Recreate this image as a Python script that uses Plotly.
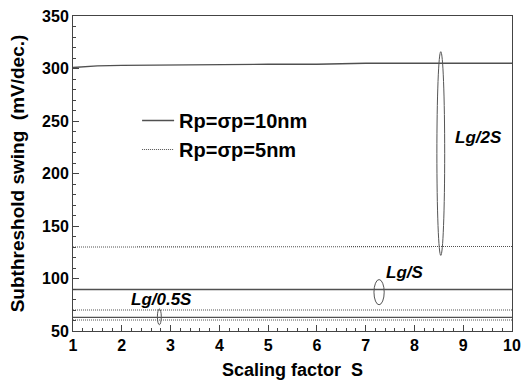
import plotly.graph_objects as go

s = [1, 1.5, 2, 3, 4, 5, 6, 7, 8, 9, 10]
ss_10nm_2S = [301, 302.5, 303, 303.5, 303.5, 304, 304, 305, 305, 305, 305]
ss_5nm_2S = [130, 130, 130, 130, 130, 130, 130, 130.5, 130.5, 130.5, 130.5]
ss_10nm_S = [89.5] * 11
ss_5nm_S = [70] * 11
ss_10nm_05S = [63] * 11
ss_5nm_05S = [60.5] * 11

FONT = "Liberation Sans, Arial"
line_col = "#505050"
fig = go.Figure()

def add(y, dash, name, show, grp):
    fig.add_trace(go.Scatter(x=s, y=y, mode="lines", name=name, showlegend=show, legendgroup=grp,
                             line=dict(color=line_col, width=1.4 if dash == "solid" else 1.1,
                                       dash=dash)))

add(ss_10nm_2S, "solid", "<b>Rp=σp=10nm</b>", True, "g10")
add(ss_5nm_2S, "1px,1px", "<b>Rp=σp=5nm</b>", True, "g5")
add(ss_10nm_S, "solid", "", False, "g10")
add(ss_5nm_S, "1px,1px", "", False, "g5")
add(ss_10nm_05S, "solid", "", False, "g10")
add(ss_5nm_05S, "1px,1px", "", False, "g5")

ovals = [(2.73, 2.81, 56, 71), (7.17, 7.38, 75, 99), (8.46, 8.62, 122, 316)]
for x0, x1, y0, y1 in ovals:
    fig.add_shape(type="circle", xref="x", yref="y", x0=x0, x1=x1, y0=y0, y1=y1,
                  line=dict(color="#555555", width=1))

labels = [("Lg/0.5S", 2.82, 80), ("Lg/S", 7.79, 106), ("Lg/2S", 9.32, 234)]
for t, x, y in labels:
    fig.add_annotation(x=x, y=y, xref="x", yref="y", text=f"<b><i>{t}</i></b>", showarrow=False,
                       font=dict(size=17, color="black", family=FONT))

tickfont = dict(size=16, color="black", family=FONT)
fig.update_xaxes(range=[1, 10], tickvals=list(range(1, 11)),
                 ticktext=[f"<b>{i}</b>" for i in range(1, 11)], tickfont=tickfont,
                 ticks="inside", ticklen=6, tickcolor="#444", showline=True, linecolor="#444",
                 mirror=True, showgrid=False, zeroline=False, automargin=False,
                 minor=dict(dtick=0.2, ticks="inside", ticklen=3, tickcolor="#444"),
                 title=dict(text="<b>Scaling factor  S</b>", font=dict(size=18, color="black", family=FONT), standoff=10))
fig.update_yaxes(range=[50, 350], tickvals=list(range(50, 351, 50)),
                 ticktext=[f"<b>{i}</b>" for i in range(50, 351, 50)], tickfont=tickfont,
                 ticks="inside", ticklen=6, tickcolor="#444", showline=True, linecolor="#444",
                 mirror=True, showgrid=False, zeroline=False, automargin=False,
                 minor=dict(dtick=10, ticks="inside", ticklen=3, tickcolor="#444"),
                 title=dict(text="<b>Subthreshold swing  (mV/dec.)</b>", font=dict(size=19, color="black", family=FONT), standoff=12))

fig.update_layout(width=522, height=387, margin=dict(l=73, r=10, t=16, b=56),
                  plot_bgcolor="white", paper_bgcolor="white",
                  legend=dict(x=0.146, y=0.73, xanchor="left", yanchor="top", bgcolor="rgba(0,0,0,0)",
                              font=dict(size=20, color="black", family=FONT),
                              itemwidth=32, tracegroupgap=0))
fig.write_html("out.html", post_script="document.body.style.margin='0px';",
               config={"displayModeBar": False})
